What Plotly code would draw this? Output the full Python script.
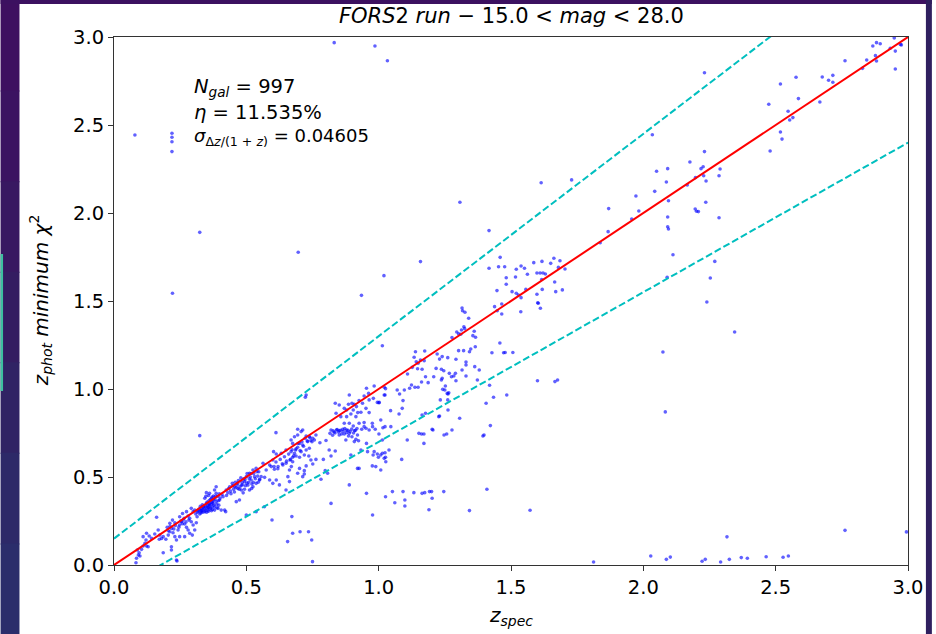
import plotly.graph_objects as go

# ---------------- data ----------------
# low-redshift band, z_spec < 0.55
low_spec = [0.083,0.085,0.092,0.098,0.095,0.088,0.104,0.110,0.117,0.123,0.129,0.121,0.110,0.123,0.133,0.142,0.154,0.167,0.173,0.180,
            0.186,0.161,0.171,0.196,0.205,0.211,0.217,0.223,0.230,0.236,0.217,0.217,0.186,0.236,0.242,0.248,0.255,0.261,0.267,0.274,
            0.280,0.286,0.296,0.305,0.299,0.292,0.286,0.280,0.274,0.259,0.248,0.230,0.221,0.211,0.201,0.248,0.267,0.311,0.314,0.309,
            0.299,0.292,0.305,0.321,0.330,0.339,0.349,0.359,0.368,0.376,0.386,0.349,0.361,0.330,0.343,0.355,0.368,0.380,0.393,0.405,
            0.418,0.361,0.374,0.386,0.399,0.343,0.380,0.386,0.412,0.424,0.437,0.447,0.456,0.468,0.481,0.493,0.500,0.512,0.525,0.537,
            0.547,0.531,0.518,0.506,0.493,0.481,0.512,0.525,0.537,0.550,0.462,0.474,0.422,0.537,0.500,0.568,
            0.315,0.322,0.328,0.333,0.337,0.342,0.346,0.351,0.355,0.358,0.362,0.366,0.370,0.373,0.377,0.382,0.388,0.392,0.396,0.398,
            0.326,0.334,0.352,0.364,0.371,0.357,0.347,
            0.430,0.440,0.452,0.458,0.465,0.470,0.476,0.484,0.490,0.497,0.503,0.509,0.515,0.521,0.528,0.534,0.540,0.545,0.455,0.488,0.520]
low_phot = [0.013,0.038,0.057,0.051,0.070,0.085,0.089,0.108,0.123,0.108,0.104,0.142,0.161,0.180,0.165,0.151,0.176,0.199,0.170,0.151,
            0.161,0.271,0.146,0.146,0.170,0.189,0.208,0.183,0.161,0.142,0.104,0.085,0.070,0.028,0.199,0.227,0.246,0.255,0.233,0.214,
            0.199,0.180,0.170,0.199,0.227,0.246,0.265,0.278,0.303,0.293,0.274,0.240,0.255,0.237,0.214,0.161,0.161,0.240,0.274,0.290,
            0.303,0.322,0.312,0.312,0.322,0.331,0.350,0.365,0.379,0.392,0.407,0.411,0.407,0.303,0.303,0.312,0.308,0.312,0.322,0.312,
            0.312,0.341,0.350,0.360,0.369,0.379,0.426,0.445,0.388,0.426,0.445,0.464,0.445,0.435,0.454,0.473,0.502,0.521,0.540,0.549,
            0.530,0.502,0.483,0.454,0.430,0.426,0.426,0.445,0.464,0.487,0.360,0.369,0.303,0.303,0.284,0.331,
            0.300,0.318,0.296,0.312,0.325,0.318,0.335,0.322,0.340,0.330,0.318,0.345,0.330,0.360,0.340,0.375,0.345,0.390,0.340,0.405,
            0.333,0.342,0.358,0.372,0.386,0.395,0.390,
            0.410,0.420,0.430,0.470,0.455,0.480,0.445,0.470,0.490,0.450,0.520,0.470,0.500,0.460,0.520,0.490,0.530,0.470,0.415,0.410,0.435]

# extra members of the densest clumps
dense_spec = [0.318,0.324,0.331,0.336,0.340,0.345,0.350,0.353,0.357,0.360,0.365,0.369,0.372,0.376,0.380,0.384,0.389,0.394,0.401,0.408,
              0.425,0.433,0.442,0.448,0.461,0.467,0.473,0.479,0.486,0.495,0.502,0.511,0.518,0.526,0.543,
              0.605,0.612,0.620,0.628,0.636,0.644,0.652,0.660,0.667,0.673,0.679,0.688,0.695,0.703,0.710,0.716,0.722,0.730,0.740,0.748,
              0.828,0.835,0.843,0.848,0.855,0.860,0.866,0.872,0.878,0.884,0.892,0.898,0.905,0.912,0.918,
              0.205,0.212,0.226,0.232,0.245,0.252,0.258,0.265,0.272,0.283]
dense_phot = [0.305,0.290,0.310,0.300,0.335,0.310,0.300,0.328,0.305,0.350,0.325,0.355,0.315,0.370,0.330,0.390,0.325,0.365,0.380,0.400,
              0.395,0.435,0.405,0.450,0.440,0.465,0.430,0.495,0.455,0.485,0.465,0.490,0.520,0.470,0.505,
              0.560,0.585,0.560,0.600,0.575,0.615,0.590,0.630,0.600,0.655,0.620,0.660,0.690,0.650,0.700,0.675,0.720,0.705,0.725,0.700,
              0.762,0.750,0.770,0.755,0.765,0.745,0.760,0.775,0.752,0.765,0.758,0.772,0.750,0.765,0.775,
              0.195,0.220,0.205,0.225,0.215,0.250,0.235,0.265,0.245,0.255]

# middle band, 0.55 < z_spec < 1.05
mid_spec = [0.954,0.983,1.021,1.024,0.980,0.964,0.995,1.002,0.945,0.962,0.939,0.926,0.889,0.899,0.908,0.916,0.886,0.904,0.933,0.964,
            0.952,0.870,0.879,0.895,0.914,0.921,0.879,0.851,0.836,0.839,0.857,0.870,0.889,0.904,0.926,0.945,0.952,0.936,0.964,0.977,
            0.987,0.920,0.914,0.909,0.889,0.879,0.864,0.851,0.841,0.832,0.820,0.816,0.826,0.851,0.870,0.886,0.899,0.876,0.908,0.924,
            0.933,0.954,0.958,0.983,0.995,0.999,1.014,1.021,1.027,0.989,1.008,0.926,0.895,0.836,0.820,0.813,0.801,0.778,0.791,0.763,
            0.736,0.744,0.751,0.726,0.719,0.701,0.694,0.713,0.719,0.675,0.670,0.663,0.657,0.663,0.650,0.625,0.613,0.600,0.588,0.569,
            0.556,0.550,0.606,0.619,0.638,0.650,0.665,0.675,0.682,0.669,0.650,0.632,0.613,0.603,0.588,0.594,0.600,0.575,0.563,0.713,
            0.726,0.738,0.751,0.763,0.757,0.744,0.732,0.738,0.726,0.713,0.701,0.694,0.686,0.707,0.719,0.701,0.688,0.675,0.669,0.682,
            0.694,0.707,0.694,0.726,0.612,0.807,0.782,0.798,1.008,0.979,1.024,0.920,0.976,0.945,0.976,1.008,1.014,1.024,1.026,
            1.171,1.108,1.087,1.039]
mid_phot = [1.004,1.017,1.010,0.966,0.947,0.938,0.924,0.924,0.960,0.975,0.919,0.934,0.966,0.919,0.913,0.900,0.913,0.881,0.868,0.866,
            0.890,0.890,0.881,0.858,0.843,0.866,0.843,0.909,0.919,0.862,0.843,0.805,0.805,0.790,0.805,0.809,0.777,0.771,0.767,0.786,
            0.771,0.739,0.714,0.763,0.748,0.767,0.771,0.763,0.767,0.756,0.767,0.748,0.737,0.739,0.744,0.733,0.729,0.710,0.701,0.706,
            0.653,0.691,0.644,0.644,0.631,0.612,0.635,0.606,0.587,0.559,0.540,0.549,0.625,0.648,0.619,0.653,0.707,0.695,0.600,0.600,
            0.619,0.597,0.574,0.563,0.536,0.549,0.521,0.502,0.517,0.587,0.559,0.540,0.502,0.474,0.426,0.455,0.483,0.464,0.483,0.498,
            0.502,0.483,0.544,0.547,0.568,0.578,0.597,0.612,0.635,0.644,0.653,0.635,0.631,0.644,0.568,0.559,0.597,0.540,0.578,0.767,
            0.733,0.729,0.720,0.739,0.710,0.707,0.701,0.663,0.653,0.682,0.691,0.669,0.653,0.644,0.625,0.612,0.619,0.691,0.710,0.729,
            0.739,0.758,0.771,0.966,0.752,0.521,0.487,0.536,0.625,0.625,0.638,0.549,0.563,0.786,0.805,0.824,0.710,0.786,0.612,
            0.691,0.710,0.600,0.653]

# 1.0 < z_spec < 1.75, below z_phot = 1.25
upper_spec = [1.014,1.139,1.174,1.134,1.142,1.172,1.221,1.240,1.230,1.261,1.292,1.302,1.321,1.343,1.330,1.330,1.109,1.147,1.127,1.164,
              1.149,1.177,1.187,1.208,1.217,1.237,1.246,1.240,1.267,1.275,1.290,1.252,1.242,1.237,1.292,1.330,1.373,1.380,1.363,1.070,
              1.079,1.092,1.097,1.117,1.124,1.137,1.149,1.162,1.026,1.021,1.001,1.045,1.077,1.016,1.001,1.259,1.428,1.472,1.419,1.434,
              1.484,1.600,1.666,1.676,1.164,1.230,1.262,1.306,1.046,1.152,1.162,1.171,1.205,1.247,1.257,1.422,1.398,1.261,1.158,1.507,
              1.478,1.177,1.227,1.089,1.277,1.202,1.315,1.284,1.265,1.406,1.262,1.250,1.233,1.394]
upper_phot = [1.246,1.212,1.216,1.180,1.155,1.161,1.199,1.184,1.170,1.178,1.169,1.218,1.218,1.212,1.153,1.136,1.085,1.115,1.123,1.112,
              1.146,1.070,1.036,1.070,1.117,1.112,1.104,1.061,1.089,1.070,1.089,1.017,0.998,1.051,1.047,1.074,1.051,1.108,1.127,0.994,
              0.972,0.934,0.994,1.004,1.023,1.010,1.010,1.040,1.002,0.966,0.922,0.877,0.858,0.780,0.744,0.975,1.206,1.206,1.021,0.953,
              0.966,1.047,1.042,1.051,0.852,0.847,0.881,0.834,0.786,0.748,0.744,0.744,0.767,0.739,0.744,0.792,0.739,0.938,1.165,1.207,
              1.207,0.862,0.843,0.890,0.767,0.771,1.108,1.074,0.979,0.919,0.972,0.994,0.938,0.733]

# 1.25 < z_phot < 2.2 group around z_spec 1.3-1.9
group_spec = [1.459,1.417,1.453,1.476,1.520,1.538,1.551,1.586,1.617,1.650,1.662,1.685,1.679,1.704,1.482,1.517,1.562,1.598,1.610,1.621,
              1.630,1.482,1.616,1.665,1.447,1.504,1.520,1.528,1.538,1.556,1.598,1.618,1.669,1.694,1.601,1.603,1.611,1.438,1.448,1.465,
              1.465,1.537,1.315,1.317,1.326,1.340,1.322,1.325,1.313,1.295,1.302,1.310,1.277,1.361,1.366,1.356,1.458,1.348,1.365,
              1.614,1.729,1.307,1.417,1.837,1.867,1.869]
group_phot = [1.748,1.686,1.695,1.695,1.680,1.699,1.686,1.718,1.725,1.714,1.743,1.729,1.691,1.682,1.632,1.636,1.652,1.659,1.659,1.659,
              1.653,1.595,1.622,1.608,1.559,1.553,1.544,1.534,1.519,1.566,1.538,1.566,1.553,1.563,1.490,1.487,1.459,1.468,1.445,1.426,
              1.483,1.439,1.460,1.445,1.436,1.402,1.354,1.343,1.335,1.324,1.313,1.311,1.292,1.328,1.294,1.303,1.261,1.227,1.240,
              2.172,2.188,2.061,1.900,1.831,1.894,2.025]

# z_spec > 1.9
high_spec = [2.231,2.034,2.474,2.518,2.577,2.586,2.547,2.553,2.565,2.518,2.524,2.479,2.676,2.700,2.716,2.716,2.667,2.762,2.828,2.844,
             2.867,2.881,2.895,2.877,2.881,2.948,2.952,2.952,2.971,2.933,2.975,2.176,2.231,2.218,2.226,2.290,2.228,2.197,2.286,2.237,
             2.166,2.092,2.050,2.087,2.043,1.972,1.983,1.956,2.095,2.236,2.196,2.201,2.208,2.092,2.286,2.092,2.095,2.112,2.270,2.090,
             2.253,2.240,2.345,2.074,2.083]
high_phot = [2.797,2.445,2.618,2.733,2.771,2.650,2.578,2.528,2.542,2.460,2.420,2.352,2.773,2.754,2.782,2.743,2.631,2.865,2.822,2.869,
             2.949,2.968,2.962,2.894,2.864,2.994,2.920,2.818,2.958,2.936,2.955,2.290,2.349,2.252,2.263,2.250,2.212,2.201,2.212,2.182,
             2.159,2.252,2.237,2.176,2.123,2.097,2.011,1.966,2.070,2.061,2.023,2.010,2.008,1.977,1.973,1.922,1.909,1.763,1.725,1.635,
             1.631,1.494,1.324,1.210,0.870]

# catastrophic outliers
out_spec = [1.812,2.028,2.087,2.102,2.222,2.234,2.292,2.325,2.316,2.370,2.393,2.464,2.528,2.548,2.762,2.994,1.572,
            0.832,0.986,1.033,0.079,0.219,0.219,0.219,0.219,0.324,0.696,1.158,1.020,0.935,0.221,0.324,0.723,
            0.675,0.703,0.735,0.747,0.656,0.750,0.672,0.597,0.238,
            0.954,0.977,0.820,0.889,1.026,1.052,1.092,1.061,1.099,1.099,1.133,1.164,1.174,1.192,1.200,1.246,1.190,1.343,1.409,1.202]
out_phot = [0.017,0.051,0.032,0.045,0.021,0.032,0.017,0.032,0.160,0.042,0.038,0.047,0.044,0.051,0.197,0.188,0.311,
            2.968,2.949,2.865,2.443,2.453,2.430,2.405,2.349,1.890,1.777,1.724,1.644,1.532,1.544,0.735,0.953,
            0.180,0.189,0.189,0.142,0.133,0.019,0.275,0.256,0.023,
            0.407,0.284,0.350,0.455,0.388,0.417,0.417,0.354,0.335,0.369,0.411,0.407,0.411,0.417,0.417,0.417,0.314,0.309,0.430,0.379]

title_text = "<i>FORS</i>2 <i>run</i> − 15.0 &lt; <i>mag</i> &lt; 28.0"
stats_lines = ["<i>N</i><sub><i>gal</i></sub> = 997",
               "<i>η</i> = 11.535%",
               "<i>σ</i><sub>Δ<i>z</i>/(1 + <i>z</i>)</sub> = 0.04605"]
x_ticks = [0.0, 0.5, 1.0, 1.5, 2.0, 2.5, 3.0]
y_ticks = [0.0, 0.5, 1.0, 1.5, 2.0, 2.5, 3.0]
outlier_cut = 0.15
z_range = [0.0, 3.0]

# ---------------- figure ----------------
zs = low_spec + dense_spec + mid_spec + upper_spec + group_spec + high_spec + out_spec
zp = low_phot + dense_phot + mid_phot + upper_phot + group_phot + high_phot + out_phot

FONT = "DejaVu Sans"
fig = go.Figure()

fig.add_trace(go.Scatter(x=zs, y=zp, mode="markers",
                         marker=dict(color="#0000ff", size=3.6, opacity=0.62, line=dict(width=0)),
                         hoverinfo="skip", showlegend=False))

xl = z_range
fig.add_trace(go.Scatter(x=xl, y=xl, mode="lines", line=dict(color="#ff0000", width=2),
                         showlegend=False, hoverinfo="skip"))
fig.add_trace(go.Scatter(x=xl, y=[v + outlier_cut * (1 + v) for v in xl], mode="lines",
                         line=dict(color="#00bfbf", width=2, dash="7px,3px"),
                         showlegend=False, hoverinfo="skip"))
fig.add_trace(go.Scatter(x=xl, y=[v - outlier_cut * (1 + v) for v in xl], mode="lines",
                         line=dict(color="#00bfbf", width=2, dash="7px,3px"),
                         showlegend=False, hoverinfo="skip"))

W, H = 936, 634
L, R, T, B = 114, 24, 37, 69
pw, ph = W - L - R, H - T - B


def px_x(p):
    return (p - L) / pw


def px_y(p):
    return (H - B - p) / ph


# slide background around the white figure
left_cols = ["#3e1060", "#3b1361", "#381861", "#341d61", "#302364", "#2d2968", "#2b2d6b"]
shapes = []
band = 634 / len(left_cols)
for i, c in enumerate(left_cols):
    shapes.append(dict(type="rect", xref="paper", yref="paper", x0=px_x(0), x1=px_x(19),
                       y0=px_y(i * band), y1=px_y((i + 1) * band + 1),
                       fillcolor=c, line=dict(width=0), layer="below"))
shapes += [
    dict(type="rect", xref="paper", yref="paper", x0=px_x(0), x1=px_x(936), y0=px_y(0), y1=px_y(4),
         fillcolor="#3c1160", line=dict(width=0), layer="below"),
    dict(type="rect", xref="paper", yref="paper", x0=px_x(930), x1=px_x(936), y0=px_y(0), y1=px_y(634),
         fillcolor="#2f1f5f", line=dict(width=0), layer="below"),
    dict(type="rect", xref="paper", yref="paper", x0=px_x(0), x1=px_x(2.5), y0=px_y(254), y1=px_y(391),
         fillcolor="#3dbf9f", line=dict(width=0), layer="below"),
]

annotations = [
    dict(text=title_text, xref="paper", yref="paper", x=0.5, y=px_y(16), xanchor="center", yanchor="middle",
         showarrow=False, font=dict(family=FONT, size=21, color="black")),
    dict(text="<i>z</i><sub><i>spec</i></sub>", xref="paper", yref="paper", x=0.5, y=px_y(616),
         xanchor="center", yanchor="middle", showarrow=False, font=dict(family=FONT, size=20, color="black")),
    dict(text="<i>z</i><sub><i>phot</i></sub> <i>minimum</i> <i>χ</i><sup>2</sup>", xref="paper", yref="paper",
         x=px_x(40), y=px_y(300), xanchor="center", yanchor="middle", textangle=-90, showarrow=False,
         font=dict(family=FONT, size=20, color="black")),
]
for line, ypx, fs in zip(stats_lines, [87, 112, 137], [19.5, 19.5, 18]):
    annotations.append(dict(text=line, xref="paper", yref="paper", x=px_x(192), y=px_y(ypx),
                            xanchor="left", yanchor="middle", showarrow=False,
                            font=dict(family=FONT, size=fs, color="black")))

axis_common = dict(showgrid=False, zeroline=False, showline=True, mirror=True, linecolor="#333333", linewidth=1,
                   ticks="outside", ticklen=5, tickwidth=1, tickcolor="#333333",
                   tickfont=dict(family=FONT, size=19.5, color="black"), range=z_range, fixedrange=True)

fig.update_layout(
    width=W, height=H, margin=dict(l=L, r=R, t=T, b=B, pad=0),
    paper_bgcolor="white", plot_bgcolor="white",
    xaxis=dict(tickvals=x_ticks, ticktext=[f"{v:.1f}" for v in x_ticks], **axis_common),
    yaxis=dict(tickvals=y_ticks, ticktext=[f"{v:.1f}" for v in y_ticks], **axis_common),
    shapes=shapes, annotations=annotations, showlegend=False,
    font=dict(family=FONT),
)

fig.write_html("out.html")
